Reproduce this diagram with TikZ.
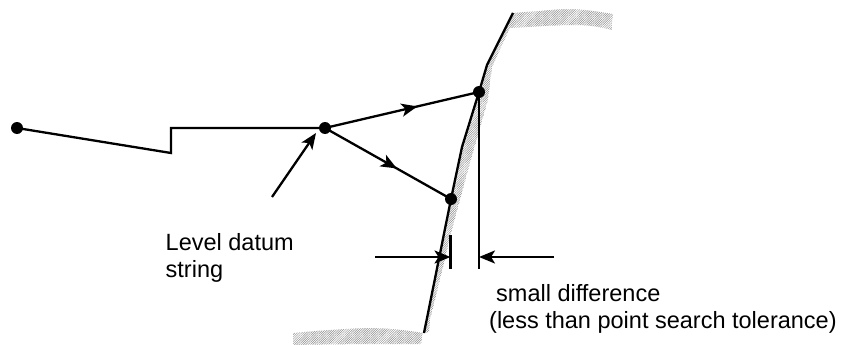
\documentclass[tikz,border=0pt]{standalone}
\usepackage{fontspec}
\setmainfont{Liberation Sans}
\usetikzlibrary{arrows.meta,patterns.meta,decorations.markings}
\tikzset{
  line/.style={line width=2.3pt,black},
  tip/.style={-{Stealth[length=16pt,width=13pt,inset=4pt]}},
  dot/.style={circle,fill=black,inner sep=0pt,minimum size=12pt},
  hatch/.style={draw=none,pattern={Lines[angle=45,distance=1.6pt,line width=.5pt]},pattern color=black!45},
  midtip/.style={postaction={decorate},decoration={markings,mark=at position #1 with {\arrow{Stealth[length=16pt,width=13pt,inset=4pt]}}}},
  lbl/.style={font=\fontsize{23.5pt}{27.5pt}\selectfont,align=left,anchor=north west,inner sep=0pt}
}
\begin{document}
\begin{tikzpicture}[x=1pt,y=-1pt]
\useasboundingbox (0,0) rectangle (843,345);
% hatched ground
\path[hatch] (513,13) .. controls (540,11) and (560,9) .. (567,9) .. controls (585,9) and (600,12) .. (613,14) -- (612,30)
  .. controls (600,27) and (590,25) .. (575,25) .. controls (555,25) and (530,27) .. (510,28)
  -- (492,67) -- (488,100) -- (468,170) -- (450,237) -- (443,267) -- (430,320) -- (429,332)
  -- (423,333) -- (452,200) -- (462,147) -- (479,92) -- (487,65) -- cycle;
\path[hatch] (423,333) .. controls (400,329) and (380,328) .. (367,328) .. controls (340,329) and (315,331) .. (293,333)
  -- (293,345) .. controls (340,344) and (390,344) .. (421,344) -- cycle;
% named points
\coordinate (wt) at (513,13);
\coordinate (w1) at (487,65);
\coordinate (w2) at (462,147);
\coordinate (wb) at (424,333);
\coordinate (s1) at (171,153);
\coordinate (s2) at (171,128);
\coordinate (vb) at (479,269);
\coordinate (tt) at (450.5,235);
\coordinate (tb) at (450.5,269);
\coordinate (al) at (375,257);
\coordinate (am) at (450.5,257);
\coordinate (ar) at (554,257);
\coordinate (av) at (479,257);
\coordinate (ds) at (272,197);
\coordinate (de) at (316,133);
\node[dot] (a) at (17,128) {};
\node[dot] (b) at (325,128) {};
\node[dot] (c) at (479,92) {};
\node[dot] (d) at (451,199) {};
% string
\draw[line,line join=miter] (a.center) -- (s1) -- (s2) -- (b.center);
\draw[line,midtip=0.6] (b.center) -- (c.center);
\draw[line,midtip=0.57] (b.center) -- (d.center);
% wall
\draw[line,line join=round] (wt) -- (w1) -- (c.center) -- (w2) -- (d.center) -- (wb);
% tolerance
\draw[line] (c.center) -- (vb);
\draw[line] (tt) -- (tb);
\draw[line,tip] (al) -- (am);
\draw[line,tip] (ar) -- (av);
\draw[line,tip] (ds) -- (de);
\node[lbl] (t1) at (165.5,233) {Level datum\\string};
\node[lbl] (t2) at (489,284) {\hspace*{7pt}small difference\\(less than point search tolerance)};
\end{tikzpicture}
\end{document}
